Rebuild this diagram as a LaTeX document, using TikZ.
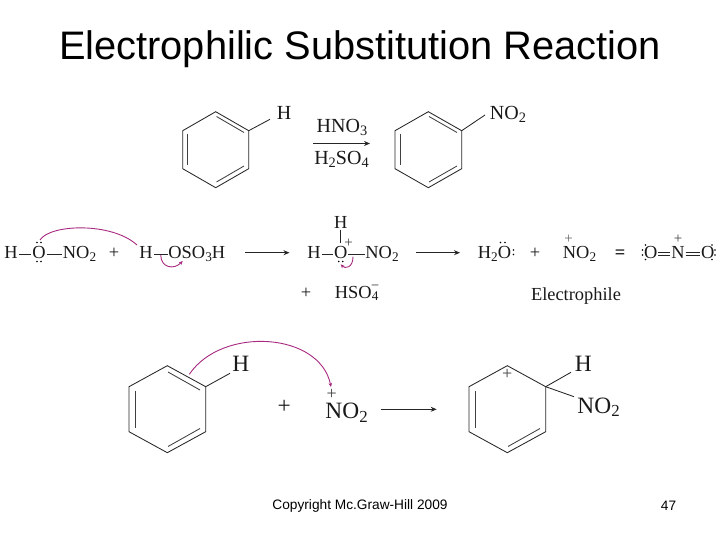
\documentclass[tikz,border=0pt]{standalone}
\usepackage{fontspec}
\setmainfont{Liberation Serif}
\newfontfamily\slidefont{Liberation Sans}
\usepackage{xcolor}
\usetikzlibrary{arrows.meta}
\definecolor{curlypink}{rgb}{0.66,0.16,0.50}
\newcommand{\subs}[1]{\raisebox{-0.32ex}{\fontsize{0.72em}{0.72em}\selectfont #1}}
\begin{document}
\begin{tikzpicture}[x=1pt,y=1pt,yscale=-1,
    bond/.style={line width=0.85pt,color=black!85},
    dbl/.style={line width=0.85pt,color=black!75},
    rxn/.style={line width=1.2pt,color=black!85,-{Stealth[length=6pt,width=5pt]}},
    curly/.style={line width=0.9pt,color=curlypink,-{Stealth[length=4pt,width=3.5pt]}},
    atom/.style={inner sep=0.75pt,text depth=0pt,text=black!90},
    atomA/.style={atom,text height=13.2pt,font=\fontsize{20}{20}\selectfont},
    atomB/.style={atom,text height=12.1pt,font=\fontsize{18.4}{18.4}\selectfont},
    atomC/.style={atom,text height=15.4pt,font=\fontsize{23.4}{23.4}\selectfont},
    lonepair/.style={circle,fill=black,inner sep=0pt,minimum size=1.9pt},
    charge/.style={inner sep=0pt,text=black!75,font=\fontsize{15}{15}\selectfont}]
  \useasboundingbox (0,0) rectangle (720,540);

  % Slide text
  \node (title) at (360,49.5) {\slidefont\fontsize{39.8}{40}\selectfont Electrophilic Substitution Reaction};
  \node (copyright) at (360,505.5) {\slidefont\fontsize{13.7}{14}\selectfont Copyright Mc.Graw-Hill 2009};
  \node (pagenum) at (668.5,505.5) {\slidefont\fontsize{13.7}{14}\selectfont 47};

  % Top ring
  \coordinate (a1) at (215.7,111.7);
  \coordinate (a2) at (248.7,130.7);
  \coordinate (a3) at (248.7,168.7);
  \coordinate (a4) at (215.7,187.7);
  \coordinate (a5) at (182.7,168.7);
  \coordinate (a6) at (182.7,130.7);
  \draw [bond] (a1) -- (a2) -- (a3) -- (a4) -- (a5) -- (a6) -- cycle ;
  \draw [dbl] (216.5,116.5) -- (244,132.5) ;
  \draw [dbl] (244,166) -- (216.5,182) ;
  \draw [dbl] (187.7,134) -- (187.7,165.5) ;
  \node [atomA] (hA) at (284,112.5) {H};
  \coordinate (hAend) at (270,119.3);
  \draw [bond] (a2) -- (hAend) ;

  % Top reagents
  \node [atomA] (hno) at (342,126) {HNO\subs{3}};
  \node [atomA] (hso) at (341.5,158) {H\subs{2}SO\subs{4}};
  \coordinate (arrA1) at (313,143.5);
  \coordinate (arrA2) at (370,143.5);
  \draw [rxn] (arrA1) -- (arrA2) ;

  % Top product ring
  \coordinate (b1) at (428.3,111.7);
  \coordinate (b2) at (461.7,130.7);
  \coordinate (b3) at (461.7,168.7);
  \coordinate (b4) at (428.3,187.7);
  \coordinate (b5) at (395,168.7);
  \coordinate (b6) at (395,130.7);
  \draw [bond] (b1) -- (b2) -- (b3) -- (b4) -- (b5) -- (b6) -- cycle ;
  \draw [dbl] (429,116.5) -- (457,132.5) ;
  \draw [dbl] (457,166) -- (429,182) ;
  \draw [dbl] (400,134) -- (400,165.5) ;
  \node [atomA,anchor=west] (noA) at (489,112.5) {NO\subs{2}};
  \coordinate (noAend) at (485,115);
  \draw [bond] (b2) -- (noAend) ;

  % Middle row, nitric acid
  \node [atomB,anchor=west] (hB) at (3.5,252.3) {H};
  \node [atomB] (oB) at (39,252.3) {O};
  \node [atomB,anchor=west] (noB) at (62,252.3) {NO\subs{2}};
  \draw [bond] ([yshift=2pt]hB.east) -- ([yshift=2pt]oB.west) ;
  \draw [bond] ([yshift=2pt]oB.east) -- ([yshift=2pt]noB.west) ;
  \node [lonepair] (oBt1) at (37,242.5) {};
  \node [lonepair] (oBt2) at (41,242.5) {};
  \node [lonepair] (oBb1) at (37,261.5) {};
  \node [lonepair] (oBb2) at (41,261.5) {};
  \node [atomB] (plusA) at (114,252) {+};

  % Middle row, sulfuric acid
  \node [atomB,anchor=west] (hC) at (138.5,252.3) {H};
  \node [atomB,anchor=west] (oC) at (167.5,252.3) {OSO\subs{3}H};
  \draw [bond] ([yshift=2pt]hC.east) -- ([yshift=2pt]oC.west) ;
  \coordinate (arrB1) at (245,252.7);
  \coordinate (arrB2) at (289.5,252.7);
  \draw [rxn] (arrB1) -- (arrB2) ;

  % Middle row, protonated acid
  \node [atomB] (hE) at (340.7,222) {H};
  \node [atomB,anchor=west] (hD) at (306.5,252.3) {H};
  \node [atomB] (oD) at (340.7,252.3) {O};
  \node [atomB,anchor=west] (noD) at (364.5,252.3) {NO\subs{2}};
  \draw [bond] ([yshift=2pt]hD.east) -- ([yshift=2pt]oD.west) ;
  \draw [bond] ([yshift=2pt]oD.east) -- ([yshift=2pt]noD.west) ;
  \draw [bond,shorten >=2pt,shorten <=1pt] (hE.south) -- (oD.north) ;
  \node [charge] (plusD) at (348.5,243) {+};
  \node [lonepair] (oDb1) at (338.7,261.5) {};
  \node [lonepair] (oDb2) at (342.7,261.5) {};
  \node [atomB] (plusB) at (306,292) {+};
  \node [atomB,anchor=west] (hso4) at (334,292) {HSO\subs{4}\llap{\raisebox{1.1ex}{\fontsize{13}{13}\selectfont --}}};
  \coordinate (arrC1) at (416,252.7);
  \coordinate (arrC2) at (460,252.7);
  \draw [rxn] (arrC1) -- (arrC2) ;

  % Middle row, water and nitronium
  \node [atomB,anchor=west] (water) at (477,252.3) {H\subs{2}O};
  \node [lonepair] (wt1) at (500.5,242.5) {};
  \node [lonepair] (wt2) at (505,242.5) {};
  \node [lonepair] (wr1) at (513.5,250) {};
  \node [lonepair] (wr2) at (513.5,254.5) {};
  \node [atomB] (plusC) at (535,252) {+};
  \node [atomB,anchor=west] (noE) at (562,252.3) {NO\subs{2}};
  \node [charge,text=black!60] (plusE) at (568.5,239) {+};
  \node [atomB,font=\bfseries\fontsize{18.4}{18.4}\selectfont] (equals) at (620,252) {=};
  \node [atomB] (electro) at (576,294) {Electrophile};

  % Lewis form
  \node [atomB] (oF) at (650.7,252.3) {O};
  \node [atomB] (nF) at (678,252.3) {N};
  \node [atomB] (oG) at (707.7,252.3) {O};
  \draw [bond] ([yshift=3.6pt]oF.east) -- ([yshift=3.6pt]nF.west) ;
  \draw [bond] ([yshift=0.2pt]oF.east) -- ([yshift=0.2pt]nF.west) ;
  \draw [bond] ([yshift=3.6pt]nF.east) -- ([yshift=3.6pt]oG.west) ;
  \draw [bond] ([yshift=0.2pt]nF.east) -- ([yshift=0.2pt]oG.west) ;
  \node [charge] (plusF) at (678,239.5) {+};
  \node [lonepair] (lp1) at (645.5,245) {};
  \node [lonepair] (lp2) at (642.5,250) {};
  \node [lonepair] (lp3) at (642.5,255) {};
  \node [lonepair] (lp4) at (645.5,259.5) {};
  \node [lonepair] (lp5) at (712,245) {};
  \node [lonepair] (lp6) at (715,250) {};
  \node [lonepair] (lp7) at (715,255) {};
  \node [lonepair] (lp8) at (712,259.5) {};

  % Curly arrows, middle row
  \coordinate (cvA1) at (40,240);
  \coordinate (cvA2) at (137,245);
  \coordinate (cvB1) at (160.7,255);
  \coordinate (cvB2) at (182.7,261);
  \coordinate (cvC1) at (353,256.7);
  \coordinate (cvC2) at (340.7,264.3);
  \draw [curly,-] (cvA1) .. controls (50,224) and (112,222) .. (cvA2) ;
  \draw [curly] (cvB1) .. controls (161,268) and (174,270) .. (cvB2) ;
  \draw [curly] (cvC1) .. controls (353,268) and (345,269) .. (cvC2) ;

  % Bottom ring
  \coordinate (c1) at (167.3,365.7);
  \coordinate (c2) at (205.7,386.7);
  \coordinate (c3) at (205.7,431.7);
  \coordinate (c4) at (167.3,452.7);
  \coordinate (c5) at (129,431.7);
  \coordinate (c6) at (129,386.7);
  \draw [bond] (c1) -- (c2) -- (c3) -- (c4) -- (c5) -- (c6) -- cycle ;
  \draw [dbl] (168,372) -- (200,390) ;
  \draw [dbl] (200,428.5) -- (168,446.5) ;
  \draw [dbl] (135,390.5) -- (135,428) ;
  \node [atomC] (hG) at (240.7,364) {H};
  \coordinate (hGend) at (230,373.3);
  \draw [bond] (c2) -- (hGend) ;
  \node [atomB,font=\fontsize{23.4}{23.4}\selectfont] (plusG) at (284.3,407.5) {+};
  \node [atomC,anchor=west] (noG) at (324.5,411) {NO\subs{2}};
  \node [charge,font=\fontsize{18}{18}\selectfont] (plusH) at (331.7,394.3) {+};
  \coordinate (cvD1) at (189.3,374.3);
  \coordinate (cvD2) at (331,387);
  \draw [curly] (cvD1) .. controls (222,326) and (320,332) .. (cvD2) ;
  \coordinate (arrD1) at (380.7,409.3);
  \coordinate (arrD2) at (436.7,409.3);
  \draw [rxn] (arrD1) -- (arrD2) ;

  % Bottom product ring
  \coordinate (d1) at (507.3,365.7);
  \coordinate (d2) at (545.7,386.7);
  \coordinate (d3) at (545.7,431.7);
  \coordinate (d4) at (507.3,452.7);
  \coordinate (d5) at (469,431.7);
  \coordinate (d6) at (469,386.7);
  \draw [bond] (d1) -- (d2) -- (d3) -- (d4) -- (d5) -- (d6) -- cycle ;
  \draw [dbl] (540,428.5) -- (508,446.5) ;
  \draw [dbl] (475,390.5) -- (475,428) ;
  \node [charge,font=\fontsize{18}{18}\selectfont] (plusJ) at (507.3,374) {+};
  \node [atomC] (hJ) at (583.3,364) {H};
  \node [atomC,anchor=west] (noJ) at (576.5,405.7) {NO\subs{2}};
  \coordinate (hJend) at (571,372.3);
  \coordinate (noJend) at (574,396.7);
  \draw [bond] (d2) -- (hJend) ;
  \draw [bond] (d2) -- (noJend) ;
\end{tikzpicture}
\end{document}
